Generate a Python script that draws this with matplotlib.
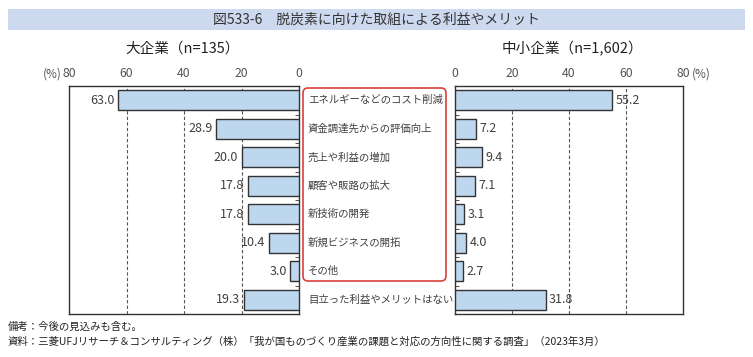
import matplotlib
matplotlib.use("Agg")
import matplotlib.pyplot as plt
from matplotlib.patches import FancyBboxPatch, Rectangle
from matplotlib.transforms import blended_transform_factory
import numpy as np

plt.rcParams['font.family'] = ['Noto Sans CJK JP', 'DejaVu Sans']

categories = ["エネルギーなどのコスト削減", "資金調達先からの評価向上", "売上や利益の増加",
              "顧客や販路の拡大", "新技術の開発", "新規ビジネスの開拓", "その他",
              "目立った利益やメリットはない"]
large = [63.0, 28.9, 20.0, 17.8, 17.8, 10.4, 3.0, 19.3]
sme = [55.2, 7.2, 9.4, 7.1, 3.1, 4.0, 2.7, 31.8]
ticks = [0, 20, 40, 60, 80]

title = "図533-6　脱炭素に向けた取組による利益やメリット"
sub_large = "大企業（n=135）"
sub_sme = "中小企業（n=1,602）"
note1 = "備考：今後の見込みも含む。"
note2 = "資料：三菱UFJリサーチ＆コンサルティング（株）「我が国ものづくり産業の課題と対応の方向性に関する調査」（2023年3月）"

W, H = 753, 357
fig = plt.figure(figsize=(W / 100, H / 100), dpi=100)

def fx(px): return px / W
def fy(py): return 1 - py / H

bar_color = "#bdd7ee"
edge = "#333333"
txt = "#404040"

# overlay for decorations in pixel coordinates (drawn beneath)
ov = fig.add_axes([0, 0, 1, 1], zorder=0)
ov.set_xlim(0, W)
ov.set_ylim(H, 0)
ov.axis('off')
ov.add_patch(Rectangle((8, 9), 737, 21, facecolor="#cdd9ef", edgecolor='none'))
ov.add_patch(FancyBboxPatch((303, 88), 143, 193, boxstyle="round,pad=0,rounding_size=5",
                            facecolor='none', edgecolor="#d9403a", linewidth=1.2))
ov.text(W / 2, 19.5, title, ha='center', va='center', fontsize=10, color="#333333")

ax_l = fig.add_axes([fx(69), fy(314), fx(299) - fx(69), fy(86) - fy(314)], zorder=2)
ax_r = fig.add_axes([fx(455), fy(314), fx(683) - fx(455), fy(86) - fy(314)], zorder=2)

y = np.arange(len(categories))
for ax, vals, side in [(ax_l, large, 'L'), (ax_r, sme, 'R')]:
    ax.patch.set_alpha(0)
    ax.barh(y, vals, height=0.7, color=bar_color, edgecolor=edge, linewidth=1.0, zorder=3)
    ax.set_ylim(len(categories) - 0.5, -0.5)
    ax.set_xlim(0, 80)
    ax.set_xticks(ticks)
    ax.set_xticklabels([str(t) for t in ticks])
    ax.xaxis.tick_top()
    ax.tick_params(axis='x', length=0, pad=4, labelsize=8.8, labelcolor="#555555")
    for g in [20, 40, 60]:
        ax.axvline(g, color="#555555", lw=0.8, ls=(0, (3, 2)), zorder=1)
    ax.set_yticks([])
    ax.set_yticks(np.arange(len(categories) - 1) + 0.5, minor=True)
    for s in ax.spines.values():
        s.set_color(edge)
        s.set_linewidth(1.0)
    if side == 'L':
        ax.invert_xaxis()
        ax.yaxis.set_ticks_position('right')
        ax.tick_params(axis='y', which='minor', direction='in', length=3, color=edge, right=True, left=False)
        for yi, v in zip(y, vals):
            ax.text(v + 1.2, yi, f"{v:.1f}", ha='right', va='center', fontsize=9, color=txt)
    else:
        ax.yaxis.set_ticks_position('left')
        ax.tick_params(axis='y', which='minor', direction='in', length=3, color=edge, left=True, right=False)
        for yi, v in zip(y, vals):
            ax.text(v + 1.2, yi, f"{v:.1f}", ha='left', va='center', fontsize=9, color=txt)

# category labels in the middle
tr = blended_transform_factory(fig.transFigure, ax_l.transData)
for yi, c in zip(y, categories):
    ax_l.text(fx(308), yi, c, transform=tr, ha='left', va='center', fontsize=7.5, color=txt, clip_on=False)

# (%) labels
fig.text(fx(52), fy(74), "(%)", ha='center', va='center', fontsize=8.5, color="#555555")
fig.text(fx(701), fy(74), "(%)", ha='center', va='center', fontsize=8.5, color="#555555")

fig.text(fx(183), fy(49), sub_large, ha='center', va='center', fontsize=10.5, color="#222222")
fig.text(fx(572), fy(49), sub_sme, ha='center', va='center', fontsize=10.5, color="#222222")
fig.text(fx(8), fy(327), note1, ha='left', va='center', fontsize=7.5, color="#222222")
fig.text(fx(8), fy(342), note2, ha='left', va='center', fontsize=7.5, color="#222222")

fig.savefig("out.png", dpi=100)
